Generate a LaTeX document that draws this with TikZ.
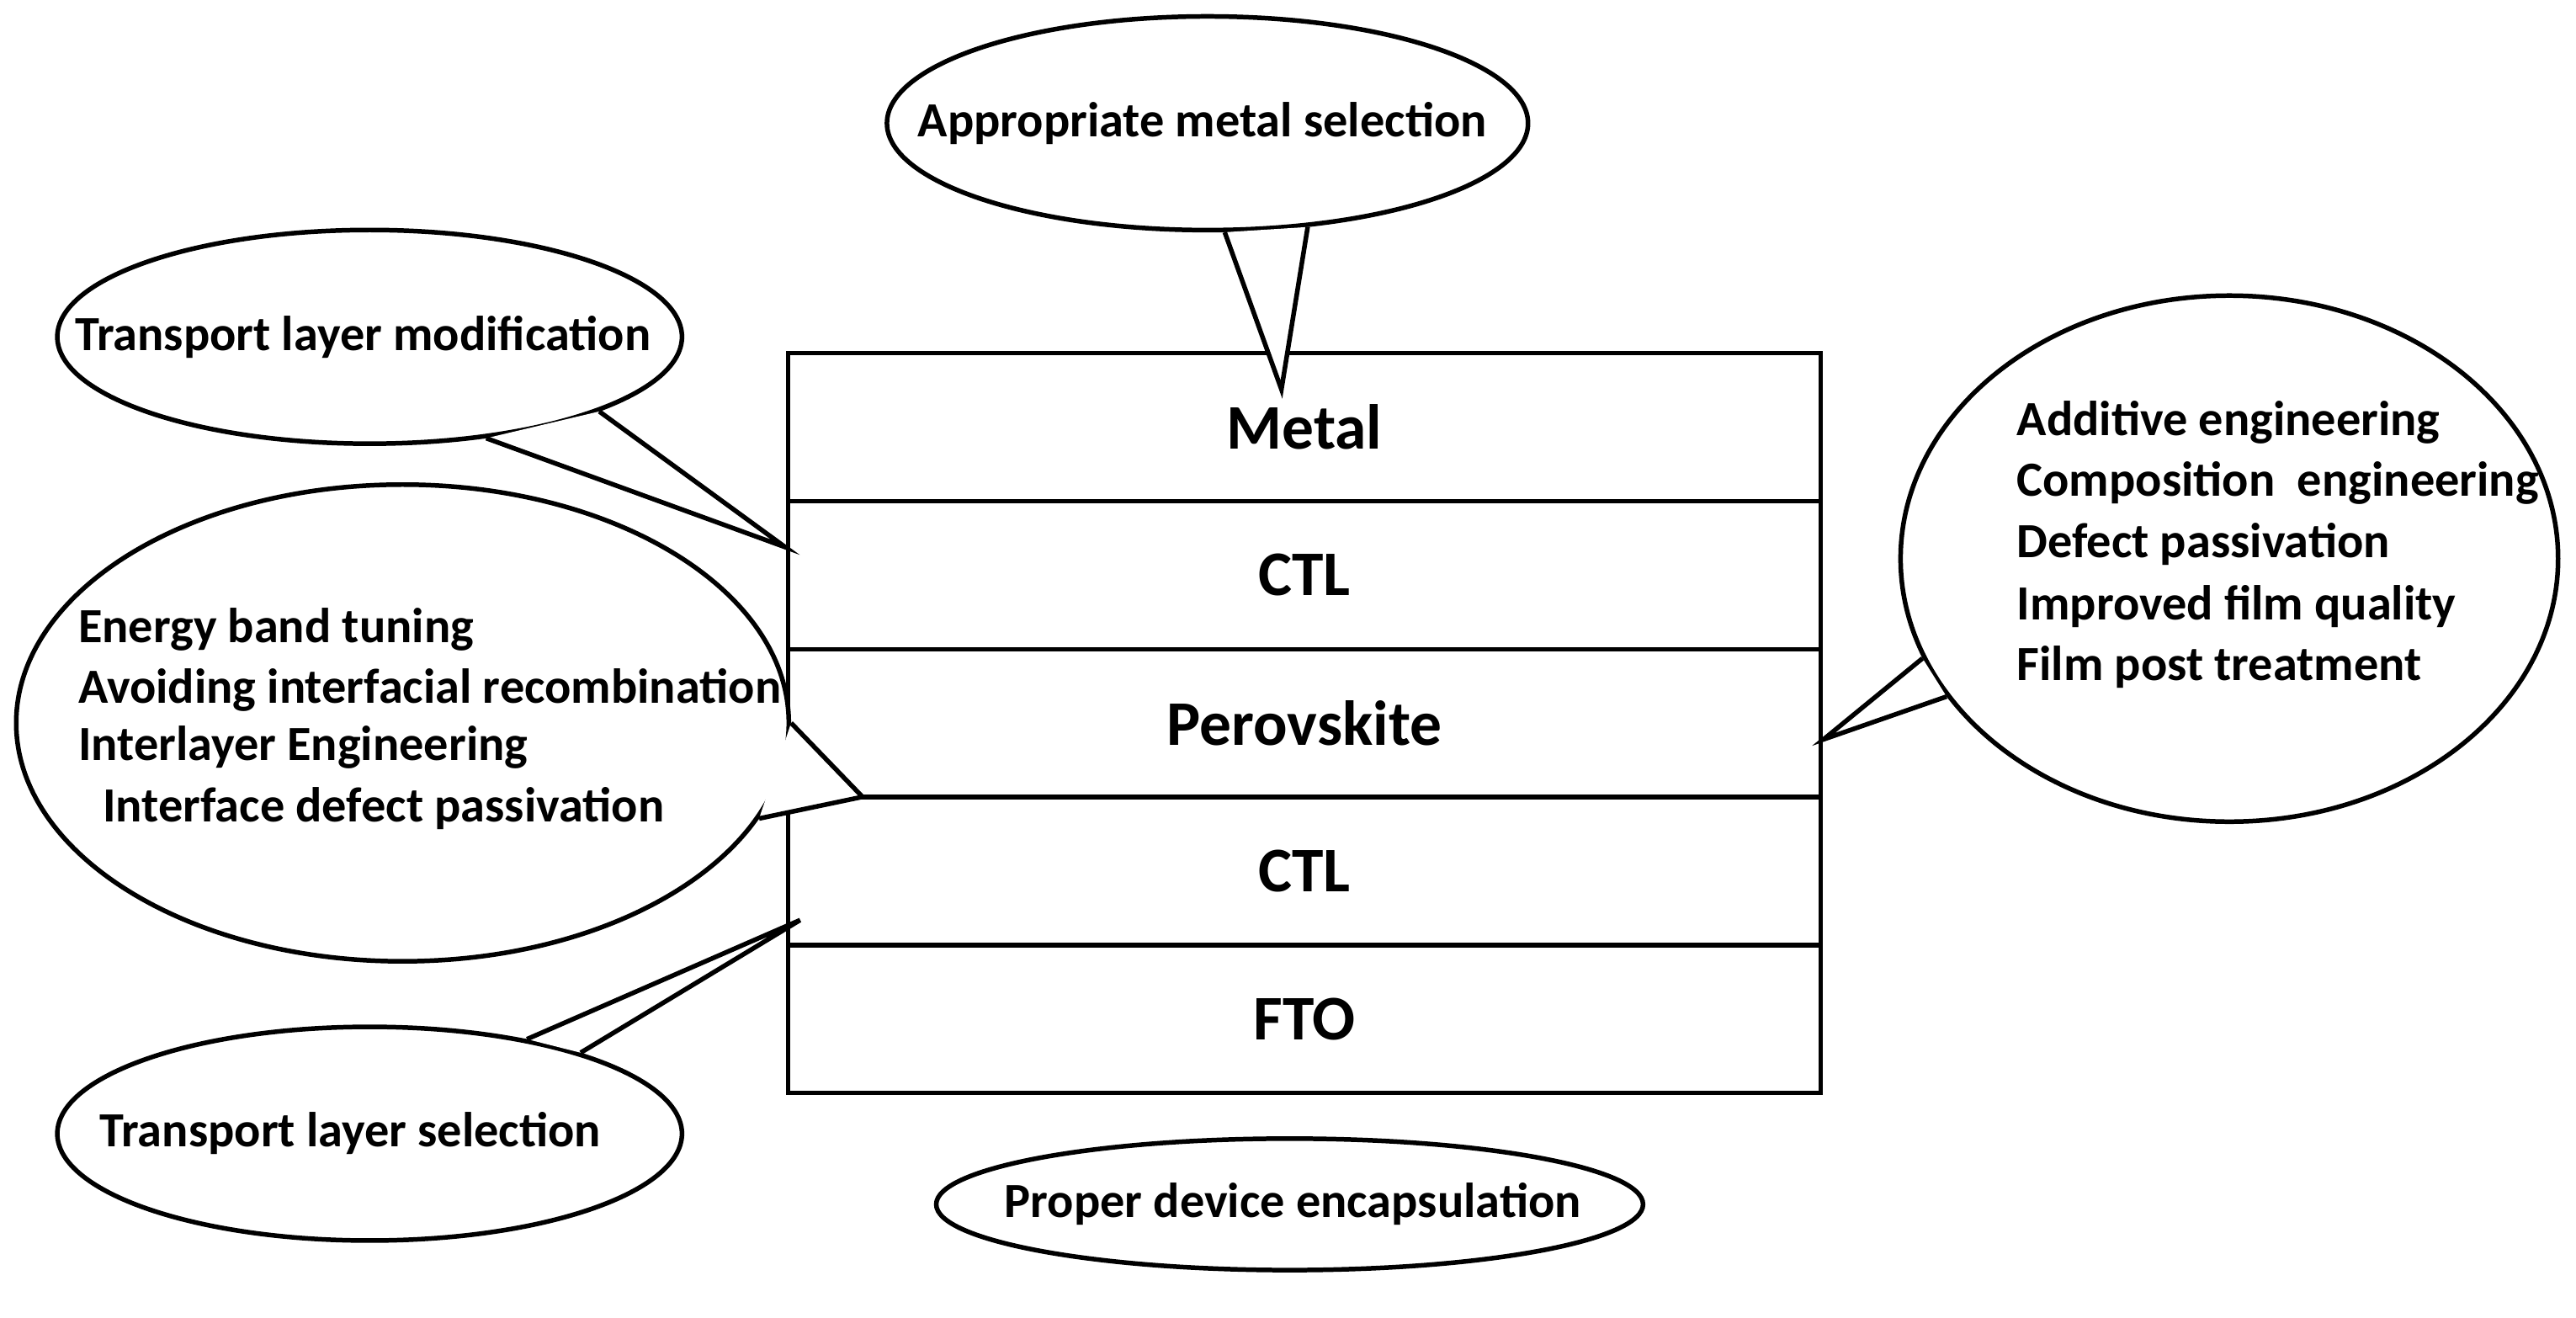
\documentclass[tikz,border=0pt]{standalone}
\usepackage{fontspec}
\setmainfont{Carlito}
\usetikzlibrary{shapes.geometric, positioning}

\begin{document}
\begin{tikzpicture}[
    x=0.01cm, y=-0.01cm,
    bubble/.style={ellipse, draw, thick, fill=white, inner sep=0pt},
    layer/.style={rectangle, draw, thick, outer sep=0pt, minimum width=6.28cm, minimum height=0.9cm, font=\fontsize{11}{13}\selectfont\bfseries},
    note/.style={font=\fontsize{8.5}{10}\selectfont\bfseries, inner sep=0pt, anchor=west},
    tail/.style={thick}
]
\useasboundingbox (0,0) rectangle (1568,802);

% Device stack
\node[layer] (metal) at (794,260) {Metal};
\node[layer, below=0pt of metal] (ctltop) {CTL};
\node[layer, below=0pt of ctltop] (perov) {Perovskite};
\node[layer, below=0pt of perov] (ctlbot) {CTL};
\node[layer, below=0pt of ctlbot] (fto) {FTO};

% Bubbles
\node[bubble, minimum width=3.9cm, minimum height=1.3cm] (metalsel) at (735,75) {};
\node[note] at (558,75) {Appropriate metal selection};
\coordinate (tipmetal) at (780,237);
\fill[white] (metalsel.-81) -- (tipmetal) -- (metalsel.-46) -- cycle;
\draw[tail] (metalsel.-81) -- (tipmetal) -- (metalsel.-46);

\node[bubble, minimum width=3.8cm, minimum height=1.3cm] (tlmod) at (225,205) {};
\node[note] at (45,205) {Transport layer modification};
\coordinate (tiptlmod) at (478,333);
\fill[white] (tlmod.-41) -- (tiptlmod) -- (tlmod.-18) -- cycle;
\draw[tail] (tlmod.-41) -- (tiptlmod) -- (tlmod.-18);

\node[bubble, minimum width=4.7cm, minimum height=2.9cm] (iface) at (245,440) {};
\node[note] at (47,383) {Energy band tuning};
\node[note] at (47,420) {Avoiding interfacial recombination};
\node[note] at (47,455) {Interlayer Engineering};
\node[note] at (62,492) {Interface defect passivation};
\coordinate (tipiface) at (525,485);
\fill[white] (iface.0) -- (tipiface) -- (iface.-15) -- cycle;
\draw[tail] (iface.0) -- (tipiface) -- (iface.-15);

\node[bubble, minimum width=3.8cm, minimum height=1.3cm] (tlsel) at (225,690) {};
\node[note] at (60,690) {Transport layer selection};
\coordinate (tiptlsel) at (487,560);
\fill[white] (tlsel.31) -- (tiptlsel) -- (tlsel.21) -- cycle;
\draw[tail] (tlsel.31) -- (tiptlsel) -- (tlsel.21);

\node[bubble, minimum width=4.0cm, minimum height=3.2cm] (bulk) at (1357,340) {};
\node[note] at (1227,257) {Additive engineering};
\node[note] at (1227,294) {Composition~ engineering};
\node[note] at (1227,331) {Defect passivation};
\node[note] at (1227,369) {Improved film quality};
\node[note] at (1227,406) {Film post treatment};
\coordinate (tipbulk) at (1110,450);
\fill[white] (bulk.-162) -- (tipbulk) -- (bulk.-154) -- cycle;
\draw[tail] (bulk.-162) -- (tipbulk) -- (bulk.-154);

\node[bubble, minimum width=4.3cm, minimum height=0.8cm] (encap) at (785,733) {};
\node[note, anchor=center] at (787,733) {Proper device encapsulation};

\end{tikzpicture}
\end{document}
